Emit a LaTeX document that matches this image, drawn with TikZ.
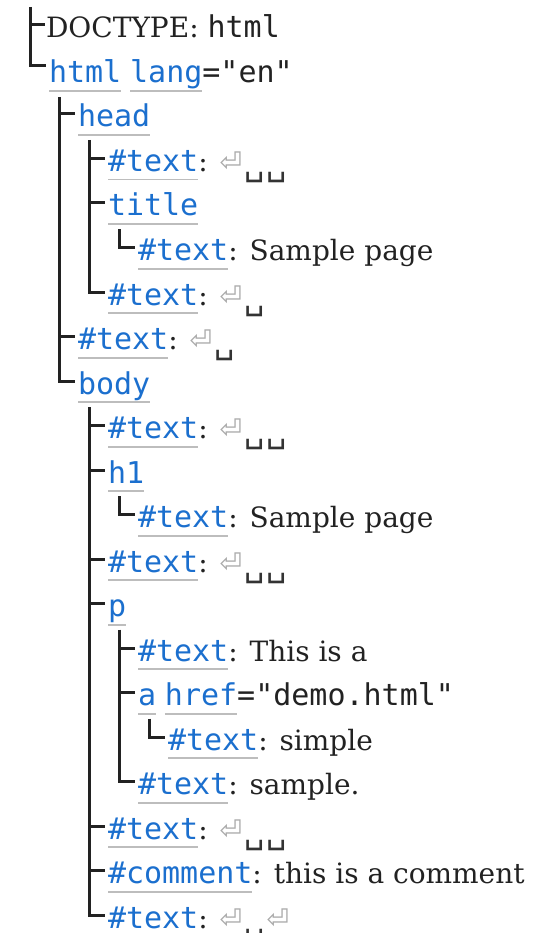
\documentclass[tikz,border=0pt]{standalone}
\usepackage{fontspec}
\usetikzlibrary{calc}
\setmainfont{DejaVu Serif}
\newfontfamily\codefont{DejaVu Sans Mono}[Ligatures=TeXOff]
\newfontfamily\symfont{DejaVu Sans}
\definecolor{tagblue}{HTML}{1B6FCE}
\definecolor{ink}{HTML}{222222}
\definecolor{ulgray}{HTML}{BDBDBD}
\definecolor{retgray}{HTML}{AAAAAA}
\definecolor{boxgray}{HTML}{333333}
\newcommand\cf{\codefont\fontsize{30}{34}\selectfont}
\newcommand\ulbox[1]{\setbox0\hbox{#1}\rlap{\textcolor{ulgray}{\rule[-9pt]{\wd0}{1.8pt}}}\box0\relax}
\newcommand\tg[1]{\ulbox{\textcolor{tagblue}{\cf #1}}}
\newcommand\cd[1]{{\cf #1}}
\newcommand\ret{{\symfont\fontsize{27}{27}\selectfont\textcolor{retgray}{⏎}}\hspace{2pt}}
\newcommand\spc{\raisebox{-4pt}{\symfont\fontsize{32}{32}\selectfont\textcolor{boxgray}{␣}}\hspace{2pt}}
\newcommand\treetick[1]{\draw[tree] ($(#1.base west)+(-19,-13)$) -- ++(16,0);}
\newcommand\treekids[2]{\draw[tree] ($(#1.base west)+(11,13)$) |- ($(#2.base west)+(-3,-13)$);}
\begin{document}
\begin{tikzpicture}[x=1pt,y=-1pt,
  tnode/.style={anchor=base west, inner sep=0pt, outer sep=0pt, text=ink, font=\fontsize{28}{34}\selectfont},
  tree/.style={draw=ink, line width=3pt}]
\useasboundingbox (0,0) rectangle (533,933);
\node[tnode] (r0) at (46,38) {DOCTYPE: \cd{html}};
\node[tnode] (r1) at (49,83) {\tg{html} \tg{lang}\cd{="en"}};
\node[tnode] (r2) at (78,127) {\tg{head}};
\node[tnode] (r3) at (108,171.5) {\tg{\#text}: \ret\spc\spc};
\node[tnode] (r4) at (108,216) {\tg{title}};
\node[tnode] (r5) at (138,260.5) {\tg{\#text}: Sample page};
\node[tnode] (r6) at (108,305) {\tg{\#text}: \ret\spc};
\node[tnode] (r7) at (78,349.5) {\tg{\#text}: \ret\spc};
\node[tnode] (r8) at (78,394) {\tg{body}};
\node[tnode] (r9) at (108,438.5) {\tg{\#text}: \ret\spc\spc};
\node[tnode] (r10) at (108,483) {\tg{h1}};
\node[tnode] (r11) at (138,527.5) {\tg{\#text}: Sample page};
\node[tnode] (r12) at (108,572) {\tg{\#text}: \ret\spc\spc};
\node[tnode] (r13) at (108,616.5) {\tg{p}};
\node[tnode] (r14) at (138,661) {\tg{\#text}: This is a};
\node[tnode] (r15) at (138,705.5) {\tg{a} \tg{href}\cd{="demo.html"}};
\node[tnode] (r16) at (168,750) {\tg{\#text}: simple};
\node[tnode] (r17) at (138,794.5) {\tg{\#text}: sample.};
\node[tnode] (r18) at (108,839) {\tg{\#text}: \ret\spc\spc};
\node[tnode] (r19) at (108,883.5) {\tg{\#comment}: this is a comment};
\node[tnode] (r20) at (108,928) {\tg{\#text}: \ret\spc\ret};
% document level
\coordinate (top) at (30,7);
\draw[tree] (top) |- ($(r1.base west)+(-3,-17)$);
\draw[tree] (30,25) -- ($(r0.base west)+(-1,-13)$);
% html children
\draw[tree] ($(r1.base west)+(10,14)$) |- ($(r8.base west)+(-3,-13)$);
\treetick{r2}\treetick{r7}
% head children
\treekids{r2}{r6}
\treetick{r3}\treetick{r4}
\treekids{r4}{r5}
% body children
\treekids{r8}{r20}
\treetick{r9}\treetick{r10}\treetick{r12}\treetick{r13}\treetick{r18}\treetick{r19}
\treekids{r10}{r11}
\treekids{r13}{r17}
\treetick{r14}\treetick{r15}
\treekids{r15}{r16}
\end{tikzpicture}
\end{document}
